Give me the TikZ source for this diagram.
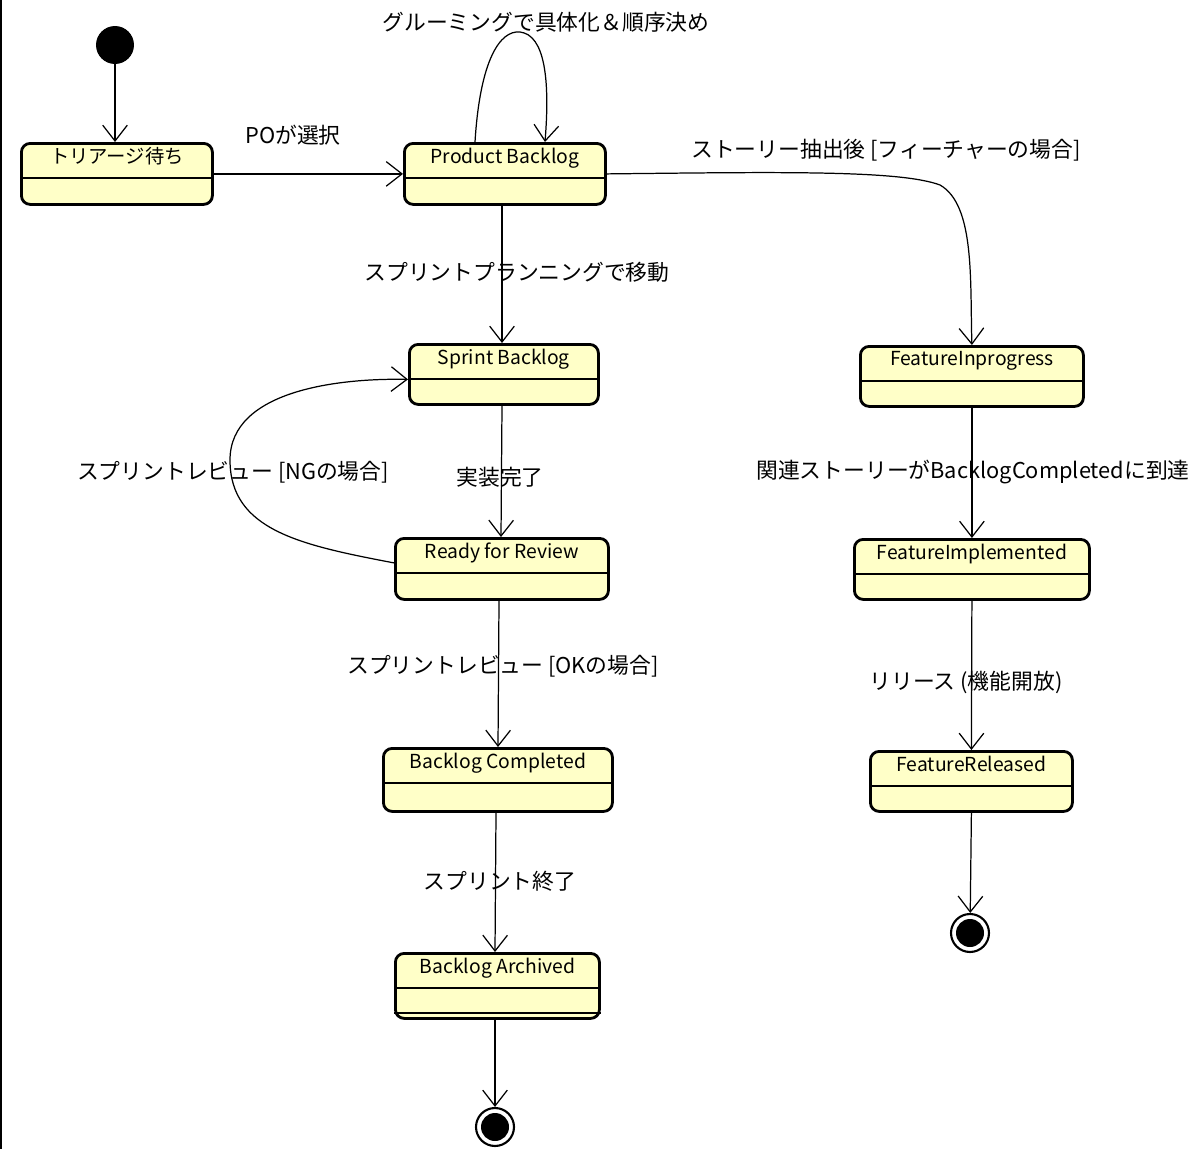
\documentclass[tikz,border=0pt]{standalone}
\usepackage{fontspec}
\setmainfont{Noto Sans CJK JP}
\usetikzlibrary{arrows.meta,calc}
\begin{document}
\begin{tikzpicture}[x=0.02cm,y=-0.02cm,
  st/.style={draw,line width=1.6pt,rounded corners=5pt,fill={rgb,255:red,255;green,255;blue,200},inner sep=0pt,anchor=north west},
  lbl/.style={font=\fontsize{12.4pt}{14pt}\selectfont,inner sep=1pt},
  ntext/.style={font=\fontsize{11pt}{13pt}\selectfont,anchor=north,inner sep=0pt},
  tr/.style={draw,line width=0.7pt,-{Straight Barb[length=9pt,width=14pt]}},
  fin/.style={circle,draw,line width=1pt,minimum size=38\pgflinewidth,inner sep=0pt}]
\useasboundingbox (0,0) rectangle (1200,1149);
\draw[line width=0.8pt] (1,0) -- (1,1149);
% initial
\node[circle,fill=black,minimum size=0.76cm,inner sep=0pt] (init) at (115,45) {};
% states
\newcommand{\mkstate}[6]{%
  \node[st,minimum width=#3*0.02cm,minimum height=#4*0.02cm] (#1) at (#2) {};
  \draw[line width=1pt] ($(#1.north west)+(0,36)$) -- ($(#1.north east)+(0,36)$);
  \node[ntext] at ($(#1.north)+(0,#6)$) {#5};}
\mkstate{tri}{20,142}{191}{61}{トリアージ待ち}{5}
\mkstate{pb}{403,142}{201}{61}{Product Backlog}{6}
\mkstate{sb}{408,343}{189}{60}{Sprint Backlog}{6}
\mkstate{fi}{859,345}{223}{60}{FeatureInprogress}{6}
\mkstate{rr}{394,537}{213}{61}{Ready for Review}{6}
\mkstate{fim}{853,538}{235}{60}{FeatureImplemented}{6}
\mkstate{bc}{382,747}{229}{63}{Backlog Completed}{6}
\mkstate{fr}{869,750}{202}{60}{FeatureReleased}{6}
\mkstate{ba}{394,952}{204}{65}{Backlog Archived}{6}
\draw[line width=0.8pt] ($(ba.south west)+(0,-7)$) -- ($(ba.south east)+(0,-7)$);
% finals
\node[circle,draw,line width=1.2pt,minimum size=0.76cm,inner sep=0pt] (f1) at (970,933) {};
\node[circle,fill=black,minimum size=0.56cm,inner sep=0pt] at (f1) {};
\node[circle,draw,line width=1.2pt,minimum size=0.76cm,inner sep=0pt] (f2) at (495,1127) {};
\node[circle,fill=black,minimum size=0.56cm,inner sep=0pt] at (f2) {};
% transitions
\draw[tr] (init) -- (tri.north -| init);
\draw[tr] (tri.east) -- (pb.west);
\draw[tr] ($(pb.north west)+(72,0)$) .. controls (480,60) and (500,30) .. (520,32) .. controls (545,35) and (550,80) .. ($(pb.north west)+(142,0)$);
\draw[tr] (pb.east) .. controls (780,172) and (900,170) .. (940,185) .. controls (975,205) and (970,280) .. (fi.north);
\draw[tr] ($(pb.south west)+(99,0)$) -- ($(sb.north west)+(94,0)$);
\draw[tr] ($(sb.south west)+(94,0)$) -- ($(rr.north west)+(107,0)$);
\draw[tr] ($(rr.west)+(0,-6)$) .. controls (300,545) and (230,530) .. (230,460) .. controls (230,390) and (340,378) .. ($(sb.west)+(0,5)$);
\draw[tr] ($(rr.south west)+(105,0)$) -- ($(bc.north west)+(116,0)$);
\draw[tr] ($(bc.south west)+(114,0)$) -- ($(ba.north west)+(101,0)$);
\draw[tr] ($(ba.south west)+(101,0)$) -- (f2);
\draw[tr] (fi.south) -- (fim.north);
\draw[tr] (fim.south) -- (fr.north);
\draw[tr] (fr.south) -- (f1);
% labels
\node[lbl] at (293,135) {POが選択};
\node[lbl] at (546,22) {グルーミングで具体化＆順序決め};
\node[lbl] at (886,150) {ストーリー抽出後 [フィーチャーの場合]};
\node[lbl] at (517,272) {スプリントプランニングで移動};
\node[lbl] at (500,477) {実装完了};
\node[lbl] at (233,472) {スプリントレビュー [NGの場合]};
\node[lbl] at (973,472) {関連ストーリーがBacklogCompletedに到達};
\node[lbl] at (503,666) {スプリントレビュー [OKの場合]};
\node[lbl] at (966,682) {リリース (機能開放)};
\node[lbl] at (500,881) {スプリント終了};
\end{tikzpicture}
\end{document}
